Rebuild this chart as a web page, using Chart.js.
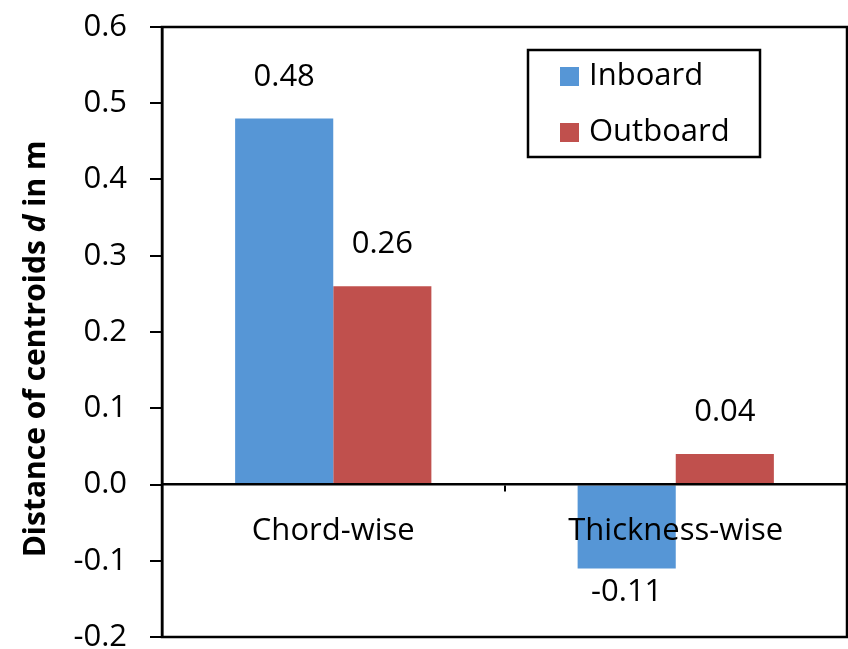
<!DOCTYPE html>
<html lang="en">
<head>
<meta charset="UTF-8">
<title>Distance of centroids</title>
<script src="https://cdn.jsdelivr.net/npm/chart.js"></script>
<style>
    body { margin: 0; background: #fff; }
    #wrap { width: 848px; height: 649px; }
</style>
</head>
<body>
<div id="wrap"><canvas id="chart" width="848" height="649"></canvas></div>
<script>
const categories = ['Chord-wise', 'Thickness-wise'];
const inboard = [0.48, -0.11];
const outboard = [0.26, 0.04];
const seriesNames = ['Inboard', 'Outboard'];
const seriesColors = ['#5696d6', '#c0504d'];

const FONT = '"Open Sans", sans-serif';
const SIZE = 31;

// value labels above positive bars, below negative ones
const barLabels = {
    id: 'barLabels',
    afterDatasetsDraw(chart) {
        const ctx = chart.ctx;
        ctx.save();
        ctx.font = SIZE + 'px ' + FONT;
        ctx.fillStyle = '#000';
        ctx.textAlign = 'center';
        chart.data.datasets.forEach((ds, i) => {
            chart.getDatasetMeta(i).data.forEach((bar, j) => {
                const v = ds.data[j];
                if (v >= 0) {
                    ctx.textBaseline = 'alphabetic';
                    ctx.fillText(v.toFixed(2), bar.x, bar.y - 33);
                } else {
                    ctx.textBaseline = 'top';
                    ctx.fillText(v.toFixed(2), bar.x, bar.y + 8);
                }
            });
        });
        ctx.restore();
    }
};

// frame round the plot area plus the boxed legend
const frameAndLegend = {
    id: 'frameAndLegend',
    afterDraw(chart) {
        const ctx = chart.ctx;
        const a = chart.chartArea;
        ctx.save();
        ctx.strokeStyle = '#000';
        ctx.lineWidth = 2.5;
        ctx.strokeRect(a.left, a.top, a.right - a.left, a.bottom - a.top);

        const lx = a.left + 366, ly = a.top + 23, lw = 232, lh = 107;
        ctx.fillStyle = '#fff';
        ctx.fillRect(lx, ly, lw, lh);
        ctx.strokeRect(lx, ly, lw, lh);
        ctx.font = SIZE + 'px ' + FONT;
        ctx.textBaseline = 'middle';
        ctx.textAlign = 'left';
        chart.data.datasets.forEach((ds, i) => {
            const cy = ly + 26 + i * 56;
            ctx.fillStyle = ds.backgroundColor;
            ctx.fillRect(lx + 32, cy - 9, 19, 19);
            ctx.fillStyle = '#000';
            ctx.fillText(ds.label, lx + 61, cy);
        });
        ctx.restore();
    }
};

// rotated y title with an italic "d"
const yTitle = {
    id: 'yTitle',
    afterDraw(chart) {
        const ctx = chart.ctx;
        const parts = [
            ['Distance of centroids ', 'bold'],
            ['d', 'italic bold'],
            [' in m', 'bold']
        ];
        ctx.save();
        ctx.translate(45, 349);
        ctx.rotate(-Math.PI / 2);
        ctx.fillStyle = '#000';
        ctx.textBaseline = 'alphabetic';
        ctx.textAlign = 'left';
        let total = 0;
        parts.forEach(p => {
            ctx.font = p[1] + ' 30px ' + FONT;
            total += ctx.measureText(p[0]).width;
        });
        let x = -total / 2;
        parts.forEach(p => {
            ctx.font = p[1] + ' 30px ' + FONT;
            ctx.fillText(p[0], x, 0);
            x += ctx.measureText(p[0]).width;
        });
        ctx.restore();
    }
};

function noPadding(scale) {
    scale.paddingTop = 0;
    scale.paddingBottom = 0;
    scale.paddingLeft = 0;
    scale.paddingRight = 0;
}

new Chart(document.getElementById('chart'), {
    type: 'bar',
    data: {
        labels: categories,
        datasets: [
            { label: seriesNames[0], data: inboard, backgroundColor: seriesColors[0] },
            { label: seriesNames[1], data: outboard, backgroundColor: seriesColors[1] }
        ]
    },
    options: {
        responsive: false,
        animation: false,
        events: [],
        layout: { padding: { left: 0, top: 27, right: 1, bottom: 12 } },
        categoryPercentage: 0.573,
        barPercentage: 1.0,
        plugins: {
            legend: { display: false },
            tooltip: { enabled: false }
        },
        scales: {
            x: {
                position: { y: 0 },
                offset: true,
                afterFit: noPadding,
                grid: { offset: true, drawOnChartArea: false, tickLength: 6, color: '#000', lineWidth: 2, z: 1 },
                border: { color: '#000', width: 2.5, z: 1 },
                ticks: { font: { family: FONT, size: SIZE }, color: '#000', padding: 22, maxRotation: 0, z: 1 }
            },
            y: {
                min: -0.2,
                max: 0.6,
                afterFit(scale) { noPadding(scale); scale.width = 162; },
                grid: { drawOnChartArea: false, tickLength: 12, color: '#000', lineWidth: 2 },
                border: { color: '#000', width: 2.5 },
                ticks: {
                    stepSize: 0.1,
                    font: { family: FONT, size: SIZE },
                    color: '#000',
                    padding: 23,
                    callback: v => v.toFixed(1)
                }
            }
        }
    },
    plugins: [barLabels, frameAndLegend, yTitle]
});
</script>
</body>
</html>
